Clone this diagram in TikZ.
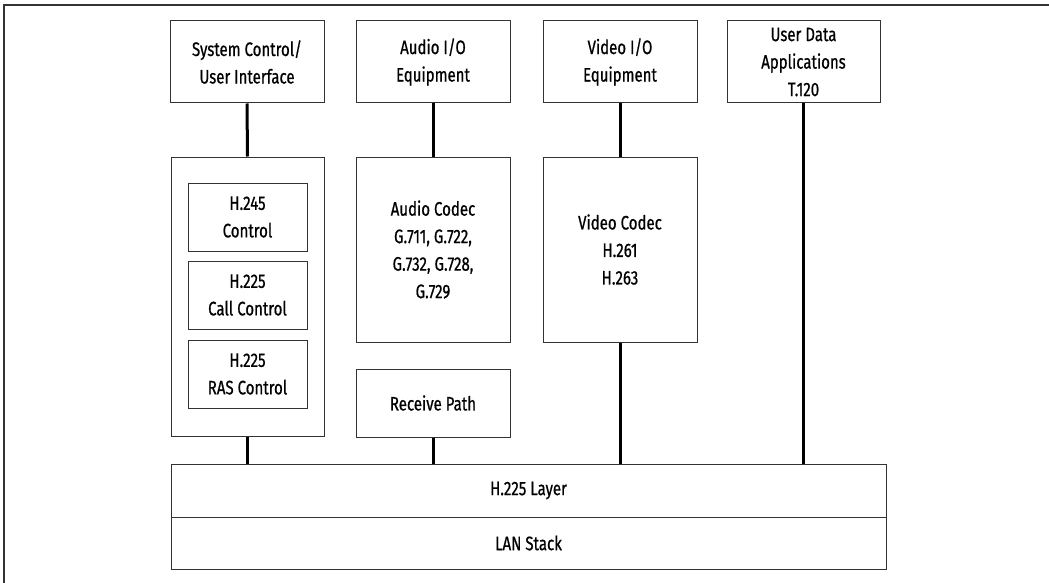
\documentclass[tikz,border=0pt]{standalone}
\usepackage{fontspec}
\setmainfont[FakeStretch=0.77,FakeBold=0.7]{Fira Sans}
\begin{document}
\begin{tikzpicture}[x=1pt,y=-1pt,
  box/.style={draw=black!80,line width=1pt,rectangle,inner sep=0pt,align=center,
    font=\fontsize{19.5}{27.5}\selectfont},
  conn/.style={line width=3pt,black},
  frame/.style={draw=black!80,line width=1.5pt}]
\useasboundingbox (0,0) rectangle (1049,583);
% page frame (open to the right and bottom)
\draw[frame] (4,583) -- (4,5) -- (1049,5);

% top row: equipment and applications
\node[box,minimum width=154pt,minimum height=82pt] (sys) at (247,62) {System Control/\\User Interface};
\node[box,minimum width=154pt,minimum height=82pt] (aio) at (433,62) {Audio I/O\\Equipment};
\node[box,minimum width=154pt,minimum height=82pt] (vio) at (620,62) {Video I/O\\Equipment};
\node[box,minimum width=153pt,minimum height=82pt] (uda) at (803.5,62) {User Data\\Applications\\T.120};

% control stack
\node[box,minimum width=153pt,minimum height=279pt] (ctl) at (247.5,296.5) {};
\node[box,minimum width=119pt,minimum height=68pt] (h245) at (247.5,217) {H.245\\Control};
\node[box,minimum width=119pt,minimum height=68pt] (h225c) at (247.5,295) {H.225\\Call Control};
\node[box,minimum width=119pt,minimum height=68pt] (ras) at (247.5,374) {H.225\\RAS Control};

% codecs
\node[box,minimum width=154pt,minimum height=185pt] (acodec) at (433,249.5) {Audio Codec\\G.711, G.722,\\G.732, G.728,\\G.729};
\node[box,minimum width=154pt,minimum height=68pt] (recv) at (433,403) {Receive Path};
\node[box,minimum width=154pt,minimum height=185pt] (vcodec) at (620,249.5) {Video Codec\\H.261\\H.263};

% transport layers
\node[box,minimum width=715pt,minimum height=53pt] (layer) at (528.5,490.5) {H.225 Layer};
\node[box,minimum width=715pt,minimum height=52pt] (lan) at (528.5,543) {LAN Stack};

% connectors
\draw[conn] (sys.south) -- (ctl.north);
\draw[conn] (ctl.south) -- (ctl.south |- layer.north);
\draw[conn] (aio.south) -- (acodec.north);
\draw[conn] (recv.south) -- (recv.south |- layer.north);
\draw[conn] (vio.south) -- (vcodec.north);
\draw[conn] (vcodec.south) -- (vcodec.south |- layer.north);
\draw[conn] (uda.south) -- (uda.south |- layer.north);
\end{tikzpicture}
\end{document}
